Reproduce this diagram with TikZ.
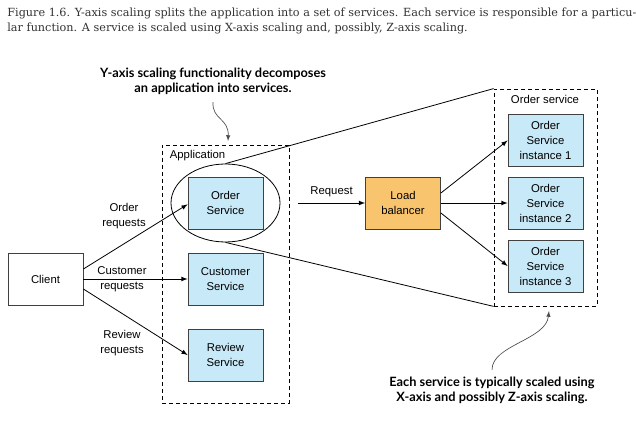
\documentclass[tikz,border=0pt]{standalone}
\usepackage{fontspec}
\setmainfont{Liberation Sans}
\newfontfamily\capfont{DejaVu Serif}
\newfontfamily\notefont{Lato}
\usetikzlibrary{shapes.geometric}

\definecolor{svcblue}{RGB}{200,233,248}
\definecolor{lbfill}{RGB}{249,196,110}
\definecolor{captext}{RGB}{50,50,50}

\begin{document}
\begin{tikzpicture}[x=0.75pt, y=-0.75pt, >=latex, line width=0.6pt]
  % Stili comuni
  \tikzset{
    box/.style={
      draw=black!75,
      minimum width=56.25pt,
      minimum height=39pt,
      align=center,
      inner sep=1pt,
      font=\fontsize{8.5}{11.25}\selectfont
    },
    svc/.style={box, fill=svcblue},
    group/.style={draw, dash pattern=on 3pt off 2.25pt, inner sep=0pt},
    lbl/.style={align=center, font=\fontsize{8.5}{11.25}\selectfont},
    note/.style={align=center, font=\notefont\bfseries\fontsize{9.6}{11.25}\selectfont},
    callout/.style={->, black!70, line width=0.5pt}
  }
  \useasboundingbox (0,0) rectangle (636,431);

  % Didascalia
  \node[anchor=north west, align=left, inner sep=0pt, text=captext,
        font=\capfont\fontsize{8.42}{11.25}\selectfont] (caption) at (7,8)
    {Figure 1.6. Y-axis scaling splits the application into a set of services. Each service is responsible for a particu-\\lar function. A service is scaled using X-axis scaling and, possibly, Z-axis scaling.};

  % Gruppi tratteggiati
  \node[group, minimum width=95.25pt, minimum height=193.5pt] (app) at (225.5,274) {};
  \node[group, minimum width=77.25pt, minimum height=162.75pt] (osvc) at (545.5,197.5) {};
  \node[lbl, anchor=west] (applbl) at (165,156) {Application};
  \node[lbl] (osvclbl) at (545,99) {Order service};

  % Servizi
  \node[draw, ellipse, minimum width=81.75pt, minimum height=58.5pt] (yscale) at (225.5,203) {};
  \node[svc] (order) at (225.5,203) {Order\\Service};
  \node[svc] (customer) at (225.5,279) {Customer\\Service};
  \node[svc] (review) at (225.5,355) {Review\\Service};
  \node[box] (client) at (45.5,279) {Client};
  \node[box, fill=lbfill] (lb) at (403,203) {Load\\balancer};

  % Istanze
  \node[svc] (inst1) at (545.5,140.5) {Order\\Service\\instance 1};
  \node[svc] (inst2) at (545.5,203) {Order\\Service\\instance 2};
  \node[svc] (inst3) at (545.5,266) {Order\\Service\\instance 3};

  % Linee di zoom
  \draw (yscale.north) -- (osvc.north west);
  \draw (yscale.south) -- (osvc.south west);

  % Richieste dal client
  \draw[->] ([yshift=7.5pt]client.east) -- ([yshift=-1pt]order.west);
  \draw[->] (client.east) -- (customer.west);
  \draw[->] ([yshift=-7.5pt]client.east) -- (review.west);
  \node[lbl] (lblorder) at (124,216) {Order\\requests};
  \node[lbl] (lblcustomer) at (122,279) {Customer\\requests};
  \node[lbl] (lblreview) at (122,343) {Review\\requests};

  % Bilanciatore
  \coordinate (req) at (298,203);
  \draw[->] (req) -- (lb.west)
    node[midway, above=1pt, lbl] (lblreq) {Request};
  \draw[->] ([yshift=7.5pt]lb.east) -- (inst1.west);
  \draw[->] (lb.east) -- (inst2.west);
  \draw[->] ([yshift=-7.5pt]lb.east) -- (inst3.west);

  % Note
  \node[note] (topnote) at (213,81) {Y-axis scaling functionality decomposes\\an application into services.};
  \node[note] (botnote) at (492,390) {Each service is typically scaled using\\X-axis and possibly Z-axis scaling.};
  \coordinate (topend) at (228,141);
  \coordinate (botend) at (549,311);
  \draw[callout] (topnote.south) ++(0,3) .. controls (212,120) and (229,118) .. (topend);
  \draw[callout] (botnote.north) ++(0,-2) .. controls (492,345) and (546,340) .. (botend);
\end{tikzpicture}
\end{document}
